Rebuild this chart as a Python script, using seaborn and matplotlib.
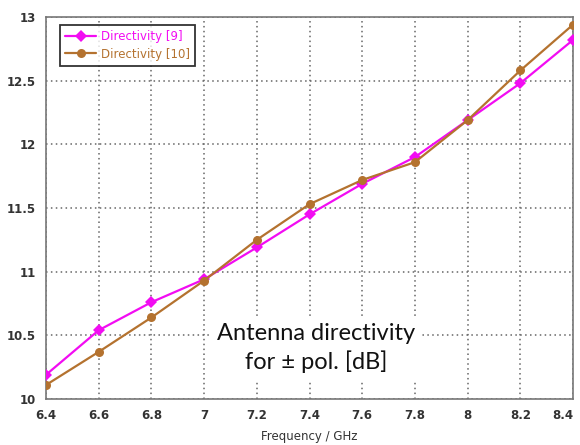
import numpy as np
import pandas as pd
import matplotlib
matplotlib.use("Agg")
import matplotlib.pyplot as plt
import seaborn as sns

freq = [6.4, 6.6, 6.8, 7.0, 7.2, 7.4, 7.6, 7.8, 8.0, 8.2, 8.4]
dir9 = [10.19, 10.54, 10.76, 10.94, 11.19, 11.45, 11.69, 11.90, 12.19, 12.48, 12.82]
dir10 = [10.11, 10.37, 10.64, 10.93, 11.25, 11.53, 11.72, 11.86, 12.19, 12.58, 12.94]
series_names = ["Directivity [9]", "Directivity [10]"]
x_ticks = [6.4, 6.6, 6.8, 7.0, 7.2, 7.4, 7.6, 7.8, 8.0, 8.2, 8.4]
x_tick_labels = ["6.4", "6.6", "6.8", "7", "7.2", "7.4", "7.6", "7.8", "8", "8.2", "8.4"]
y_ticks = [10, 10.5, 11, 11.5, 12, 12.5, 13]
y_tick_labels = ["10", "10.5", "11", "11.5", "12", "12.5", "13"]

df = pd.DataFrame({
    "freq": freq * 2,
    "val": dir9 + dir10,
    "series": [series_names[0]] * len(freq) + [series_names[1]] * len(freq),
})

sns.set_style("white")
plt.rcParams['font.family'] = ['DejaVu Sans']

colors = {series_names[0]: "#F20CF2", series_names[1]: "#B4722F"}
markers = {series_names[0]: "D", series_names[1]: "o"}

fig = plt.figure(figsize=(5.8, 4.45), dpi=100)
ax = fig.add_axes([0.0793, 0.1034, 0.9087, 0.8584])

sns.lineplot(data=df, x="freq", y="val", hue="series", style="series",
             palette=colors, markers=markers, dashes=False, linewidth=1.6,
             markersize=6.5, markeredgewidth=0, ax=ax, legend=True, zorder=3)

ax.set_xlim(6.4, 8.4)
ax.set_ylim(10, 13)
ax.set_xticks(x_ticks)
ax.set_xticklabels(x_tick_labels)
ax.set_yticks(y_ticks)
ax.set_yticklabels(y_tick_labels)
ax.grid(True, linestyle=(0, (1, 2.2)), color="#666666", linewidth=1.1)
ax.set_axisbelow(True)
for s in ax.spines.values():
    s.set_color("#777777")
    s.set_linewidth(1.2)
ax.tick_params(axis="both", direction="out", length=4, width=1, color="#555555",
               labelsize=8.5, labelcolor="#333333", pad=3)
for lbl in ax.get_xticklabels() + ax.get_yticklabels():
    lbl.set_fontweight("bold")
ax.get_xticklabels()[-1].set_horizontalalignment("right")
ax.set_xlabel("Frequency / GHz", fontsize=8.5, color="#333333", labelpad=6)
ax.set_ylabel("")

leg = ax.legend(loc="upper left", bbox_to_anchor=(0.022, 0.985), frameon=True,
                fancybox=False, edgecolor="black", fontsize=8.5, handlelength=2.6,
                handletextpad=0.4, borderpad=0.45, labelspacing=0.35,
                borderaxespad=0.2)
leg.get_frame().set_linewidth(1.3)
for txt, name in zip(leg.get_texts(), series_names):
    txt.set_color(colors[name])

ax.text(7.425, 10.40, "Antenna directivity\nfor ± pol. [dB]", ha="center", va="center",
        fontsize=17, family=["Lato", "DejaVu Sans"], fontweight="normal",
        color="#111111", linespacing=1.3,
        bbox=dict(facecolor="white", edgecolor="none", pad=5), zorder=4)

fig.savefig("out.png", dpi=100)
